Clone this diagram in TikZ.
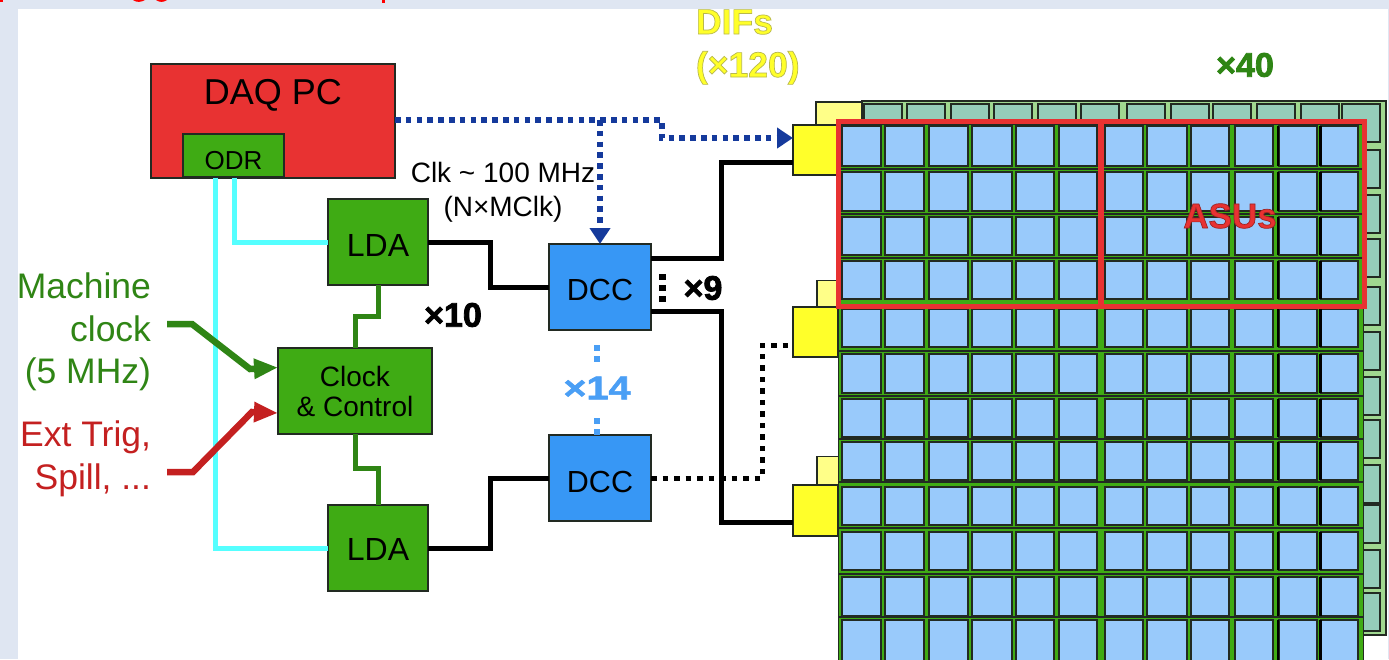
\documentclass[tikz,border=0pt]{standalone}
\usepackage{fontspec}
\setmainfont{Liberation Sans}
\usetikzlibrary{arrows.meta}
\definecolor{pagebg}{HTML}{DFE6F2}
\definecolor{daqred}{HTML}{E83232}
\definecolor{boxgreen}{HTML}{3FAB14}
\definecolor{wiregreen}{HTML}{2F8515}
\definecolor{dccblue}{HTML}{3797F5}
\definecolor{cellblue}{HTML}{99CAFB}
\definecolor{tealcell}{HTML}{95CDB9}
\definecolor{backgreen}{HTML}{A0D890}
\definecolor{difyellow}{HTML}{FFFF2A}
\definecolor{paleyellow}{HTML}{FFFF88}
\definecolor{navyline}{HTML}{153A9C}
\definecolor{cyanline}{HTML}{55FFFF}
\definecolor{extred}{HTML}{C42020}
\definecolor{lightblue}{HTML}{4A9FF5}
\definecolor{darkedge}{HTML}{222A22}
\newcommand{\fs}[1]{\fontsize{#1}{#1}\selectfont}
\newcommand{\outlined}[3]{\special{pdf:code 2 Tr #1 w #2 RG}#3\special{pdf:code 0 Tr 0 w}}
\newcommand{\low}[2]{\raisebox{-#1pt}[0pt][0pt]{#2}}
\tikzset{
  box/.style={draw=darkedge,line width=1.2pt,inner sep=0pt,outer sep=0pt,align=center},
  greenbox/.style={box,fill=boxgreen},
  dccbox/.style={box,fill=dccblue,minimum width=102pt,minimum height=86pt,font=\fs{30.5}},
  ldabox/.style={greenbox,minimum width=100pt,minimum height=86pt,font=\fs{32}},
  difbox/.style={box,fill=difyellow,minimum width=45pt},
  difback/.style={box,fill=paleyellow,minimum width=46pt},
  cyanwire/.style={cyanline,line width=5pt},
  blackwire/.style={black,line width=5pt,line join=miter},
  greenwire/.style={wiregreen,line width=5pt},
  blackdots/.style={black,line width=5pt,dash pattern=on 5.5pt off 6pt},
  navydots/.style={navyline,line width=6pt,dash pattern=on 5.5pt off 5.3pt},
  bigarrow/.style={line width=6.5pt,-{Triangle[length=24pt,width=19pt]}},
  navyarrow/.style={navydots,-{Triangle[length=16pt,width=20pt,sep=0pt]}},
  lbl/.style={inner sep=0pt,outer sep=0pt},
  mult/.style={lbl,font=\bfseries\fs{34}},
}
\begin{document}
\begin{tikzpicture}[x=1pt,y=-1pt]
\useasboundingbox (0,0) rectangle (1389,659);
\clip (0,0) rectangle (1389,659);
% page
\fill[pagebg] (0,0) rectangle (1389,659);
\fill[white] (18,9) rectangle (1388,659);
% clipped remains of the slide title
\fill[red] (0,0) rectangle (3,1.5);
\fill[red] (133,0) .. controls (136,2.5) and (141,2.5) .. (145,0) -- cycle;
\fill[red] (156,0) .. controls (159,2.5) and (164,2.5) .. (167,0) -- cycle;
\fill[red] (382,0) rectangle (385,2.5);
% back layer
\node[difback,minimum height=24pt] (difbA) at (839,114) {};
\node[difback,minimum height=27pt] (difbB) at (840,294) {};
\node[difback,minimum height=29pt] (difbC) at (840,471) {};
\draw[draw=darkedge,line width=1.2pt,fill=backgreen] (862,101) rectangle (1386,635);
\foreach \cx in {864,907,951,994,1038,1081,1127,1171,1213,1257,1301,1342}
  \foreach \cy in {104,150,195,239,287,332,377,420,465,505,550,593}
    \draw[draw=darkedge,line width=1.2pt,fill=tealcell] (\cx,\cy) rectangle ++(38,38);
% front board
\draw[draw=darkedge,line width=1pt,fill=boxgreen] (838,124) rectangle (1363,670);
\foreach \ry in {169,214,258,305,351,396,439,482,528,574,617}
  \draw[darkedge,line width=1.4pt] (838,\ry) -- (1363,\ry);
\foreach \cx/\cw in {842/39,885/39,929/39,972/40,1016/38,1059/38,1105/38,1147/40,1191/38,1235/38,1279/38,1321/37}
  \foreach \cy/\ch in {126/40,172/39,217/38,261/38,309/38,354/39,399/38,442/38,487/38,532/38,577/39,620/45}
    \draw[draw=darkedge,line width=1.3pt,fill=cellblue] (\cx,\cy) rectangle ++(\cw,\ch);
\foreach \cy/\ch in {126/40,172/39,217/38,261/38,309/38,354/39,399/38,442/38,487/38,532/38,577/39,620/45} {
  \draw[black,line width=3pt] (1320,\cy) -- ++(0,\ch);
  \draw[black,line width=1.8pt] (1278,\cy) -- ++(0,\ch);
}
% DIFs
\node[difbox,minimum height=50pt] (difA) at (815.5,150) {};
\node[difbox,minimum height=50pt] (difB) at (815.5,332) {};
\node[difbox,minimum height=51pt] (difC) at (815.5,510.5) {};
% ASU frame
\draw[daqred,line width=5pt,line join=miter] (838.5,121.5) rectangle (1364.5,306);
\draw[daqred,line width=6pt] (1101,121.5) -- (1101,306);
% main boxes
\node[box,fill=daqred,minimum width=244pt,minimum height=114pt] (daq) at (273,121) {};
\node[lbl,font=\fs{36}] (daqlabel) at (273,95) {DAQ PC};
\node[greenbox,minimum width=101pt,minimum height=43pt,font=\fs{26}] (odr) at (233.5,155.5) {\low{13.8}{ODR}};
\node[ldabox] (ldaA) at (378,242) {\low{14.5}{LDA}};
\node[ldabox] (ldaB) at (378,548) {\low{12.5}{LDA}};
\node[greenbox,minimum width=154pt,minimum height=86pt,font={\fontsize{28}{30}\selectfont}] (clock) at (355,391)
  {Clock\\\& Control};
\node[dccbox] (dccA) at (600,287) {\low{13}{DCC}};
\node[dccbox] (dccB) at (600,478) {\low{14}{DCC}};
% connector ends
\coordinate (odrA) at (215,177.5);
\coordinate (odrB) at (234,177.5);
\coordinate (daqout) at (395,120);
\coordinate (branch) at (600,120);
\coordinate (dccAupper) at (651,258);
\coordinate (dccAlower) at (651,311);
\coordinate (difAin) at (793,162);
\coordinate (difAdata) at (793,138);
\coordinate (difBin) at (793,345);
\coordinate (difCin) at (793,522);
\coordinate (mclk) at (167,324);
\coordinate (mclkA) at (192,324);
\coordinate (mclkB) at (250,369);
\coordinate (mclkIn) at (278,367.5);
\coordinate (trig) at (167,472);
\coordinate (trigA) at (193,472);
\coordinate (trigB) at (252,412);
\coordinate (trigIn) at (278,413);
\coordinate (ldaAdown) at (378,285);
\coordinate (clkUp) at (355,348);
\coordinate (clkDown) at (355,434);
\coordinate (ldaBup) at (378,505);
% connectors
\draw[cyanwire] (odrA) |- (ldaB.west);
\draw[cyanwire] (odrB) |- (ldaA.west);
\draw[blackwire] (ldaA.east) -- ++(62,0) |- (dccA.west);
\draw[blackwire] (ldaB.east) -- ++(62,0) |- (dccB.west);
\draw[greenwire] (ldaAdown) -- ++(0,31) -| (clkUp);
\draw[greenwire] (clkDown) -- ++(0,34) -| (ldaBup);
\draw[blackwire] (dccAupper) -- ++(70,0) |- (difAin);
\draw[blackwire] (dccAlower) -- ++(70,0) |- (difCin);
\draw[blackdots] (dccB.east) -- ++(111,0) |- (difBin);
\draw[navyarrow] (daqout) -- ++(267,0) -- ++(0,18) -- (difAdata);
\draw[navyarrow] (branch) -- (dccA.north);
\draw[wiregreen,bigarrow] (mclk) -- (mclkA) -- (mclkB) -- (mclkIn);
\draw[extred,bigarrow] (trig) -- (trigA) -- (trigB) -- (trigIn);
% multiplicity dots
\draw[black,line width=7pt,dash pattern=on 6pt off 5pt] (662.5,274) -- (662.5,303);
\draw[lightblue,line width=6.5pt,dash pattern=on 6pt off 5pt] (597,345) -- (597,362);
\draw[lightblue,line width=6.5pt,dash pattern=on 6pt off 5pt] (597,418) -- (597,435);
% labels
\node[lbl,anchor=east,align=right,text=wiregreen,font={\fontsize{35.5}{42.5}\selectfont}] (mlabel) at (151,332)
  {Machine\\clock\\(5 MHz)};
\node[lbl,anchor=east,align=right,text=extred,font={\fontsize{35.5}{43}\selectfont}] (tlabel) at (151,458.5)
  {Ext Trig,\\Spill, ...};
\node[lbl,align=center,font={\fontsize{28}{34}\selectfont}] (clklabel) at (503,192)
  {Clk \textasciitilde{} 100 MHz\\(N×MClk)};
\node[mult] (x10) at (453,315) {\outlined{0.8}{0 0 0}{×10}};
\node[mult] (x9) at (703,288) {\outlined{0.8}{0 0 0}{×9}};
\node[mult,font=\bfseries\fs{33},text=lightblue] (x14) at (597,388) {\scalebox{1.2}[1]{\outlined{0.5}{0.29 0.62 0.96}{×14}}};
\node[mult,text=wiregreen] (x40) at (1245,65) {\outlined{0.8}{0.18 0.52 0.08}{×40}};
\node[lbl,anchor=west,align=left,text=difyellow,font={\bfseries\fontsize{35.5}{43}\selectfont}] (diflabel) at (696,47)
  {\outlined{0.7}{0.72 0.72 0.30}{DIFs}\\\outlined{0.7}{0.72 0.72 0.30}{(×120)}};
\node[mult,font=\bfseries\fs{35},text=daqred] (asus) at (1230,216) {\outlined{0.7}{0.62 0.14 0.14}{ASUs}};
\end{tikzpicture}
\end{document}
